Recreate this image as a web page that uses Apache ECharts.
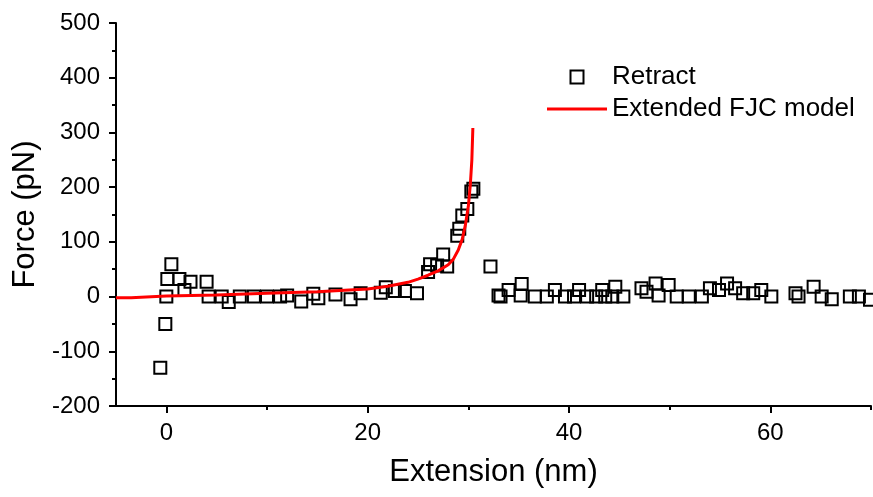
<!DOCTYPE html>
<html>
<head>
<meta charset="utf-8">
<script src="https://cdn.jsdelivr.net/npm/echarts@6/dist/echarts.min.js"></script>
<style>html,body{margin:0;padding:0;background:#fff}#c{width:873px;height:497px}</style>
</head>
<body>
<div id="c"></div>
<script>
const retractX = [-0.6,-0.1,0,0.1,0.5,1.3,1.8,2.4,4.0,4.2,5.5,6.2,7.3,8.7,10,11.3,12.0,13.4,14.6,15.1,16.8,18.3,19.3,21.3,21.8,22.7,23.7,24.9,26.0,26.2,26.9,27.5,27.9,28.9,29.1,29.4,29.9,30.3,30.5,32.2,33.0,33.2,34.0,35.2,35.3,36.6,37.8,38.6,39.6,40.5,41.0,41.8,42.7,43.3,43.6,44.3,44.6,45.4,47.2,47.7,48.6,48.9,49.9,50.7,51.9,53.2,54.0,54.9,55.7,56.5,57.3,58.3,59.1,60.1,62.5,62.8,64.3,65.1,66.1,67.9,68.8,69.9];
const retractY = [-130,-50,0,32,59,32,12,27,27,0,0,-10,0,0,0,0,2,-9,5,-3,4,-5,6,7,17,10,10,6,45,59,57,77,55,111,124,148,160,192,197,55,2,0,12,2,23,0,0,12,0,0,12,0,0,12,0,0,18,0,15,9,24,2,21,0,0,0,15,12,24,15,6,6,12,0,6,0,18,0,-5,0,0,-6];
const fjcX = [-5,-3.5,0,5,10,15,20,22,24,25,26,27,28,28.5,29,29.4,29.7,30,30.2,30.35,30.45];
const fjcY = [-2,-2,1,3,6,9,14,19,26,32,39,47,58,68,85,105,130,165,205,250,308];
const xTicks = [0,20,40,60];
const xMinorTicks = [10,30,50,70];
const seriesNames = ['Retract','Extended FJC model'];

const chart = echarts.init(document.getElementById('c'));
const font = 'Liberation Sans, Arial, sans-serif';
chart.setOption({
  animation: false,
  grid: {left:116, right:2, top:23, bottom:91, containLabel:false},
  legend: {
    orient:'vertical', left:542, top:59, itemWidth:60, itemHeight:13, itemGap:6,
    textStyle:{fontFamily:font, fontSize:26, color:'#000'},
    data:[{name:seriesNames[0], icon:'path://M0,0H10V10H0Z'},
          {name:seriesNames[1], icon:'path://M0,0H40V2H0Z'}]
  },
  xAxis: [{
    type:'value', min:-5, max:70,
    name:'Extension (nm)', nameLocation:'middle', nameGap:51,
    nameTextStyle:{fontFamily:font, fontSize:31, color:'#000'},
    axisLine:{onZero:false, lineStyle:{color:'#000', width:2}},
    axisTick:{customValues:xTicks, length:7, lineStyle:{color:'#000', width:2}},
    axisLabel:{customValues:xTicks, margin:15, fontFamily:font, fontSize:24, color:'#000'},
    splitLine:{show:false}
  },{
    type:'value', min:-5, max:70, position:'bottom',
    axisLine:{show:false, onZero:false},
    axisTick:{customValues:xMinorTicks, length:4, lineStyle:{color:'#000', width:2}},
    axisLabel:{show:false},
    splitLine:{show:false}
  }],
  yAxis: {
    type:'value', min:-200, max:500, interval:100,
    name:'Force (pN)', nameLocation:'middle', nameGap:74,
    nameTextStyle:{fontFamily:font, fontSize:31, color:'#000'},
    axisLine:{show:true, onZero:false, lineStyle:{color:'#000', width:2}},
    axisTick:{show:true, length:7, lineStyle:{color:'#000', width:2}},
    minorTick:{show:true, splitNumber:2, length:4, lineStyle:{color:'#000', width:2}},
    axisLabel:{margin:16, fontFamily:font, fontSize:24, color:'#000'},
    splitLine:{show:false}
  },
  series: [{
    name:seriesNames[0], type:'scatter', symbol:'rect', symbolSize:12,
    itemStyle:{color:'rgba(255,255,255,0)', borderColor:'#000', borderWidth:2, opacity:1},
    data: retractX.map((x,i)=>[x, retractY[i]])
  },{
    name:seriesNames[1], type:'line', showSymbol:false, symbol:'none',
    lineStyle:{color:'#ff0000', width:3}, itemStyle:{color:'#ff0000'},
    data: fjcX.map((x,i)=>[x, fjcY[i]])
  }]
});
</script>
</body>
</html>
